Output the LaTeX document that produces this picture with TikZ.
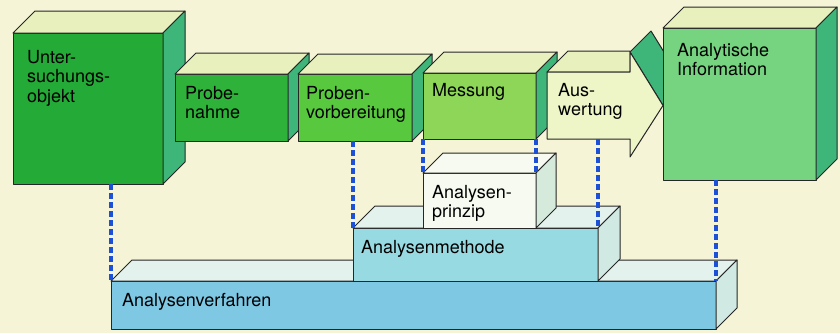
\documentclass[tikz,border=0pt]{standalone}
\usepackage{fontspec}
\setmainfont{TeX Gyre Heros}
\usetikzlibrary{positioning}

\definecolor{paper}{RGB}{245,244,214}
\definecolor{topface}{RGB}{232,240,190}
\definecolor{greenside}{RGB}{62,182,122}
\definecolor{objgreen}{RGB}{36,170,54}
\definecolor{pngreen}{RGB}{46,178,58}
\definecolor{pvgreen}{RGB}{88,200,62}
\definecolor{msgreen}{RGB}{142,214,88}
\definecolor{awyellow}{RGB}{238,245,198}
\definecolor{aigreen}{RGB}{118,212,128}
\definecolor{ppwhite}{RGB}{246,250,240}
\definecolor{ppside}{RGB}{214,234,220}
\definecolor{metop}{RGB}{228,242,238}
\definecolor{mecyan}{RGB}{152,218,226}
\definecolor{vfblue}{RGB}{126,200,228}
\definecolor{paleside}{RGB}{208,233,226}
\definecolor{linkblue}{RGB}{28,80,214}

% top and side face of a box, drawn from the front node
\newcommand{\cubefaces}[4]{%
	\draw[face, fill=#2] (#1.north west) -- ++(#4,-#4) -- ([shift={(#4,-#4)}]#1.north east) -- (#1.north east) -- cycle;
	\draw[face, fill=#3] (#1.north east) -- ++(#4,-#4) -- ([shift={(#4,-#4)}]#1.south east) -- (#1.south east) -- cycle;
}

\begin{document}
\begin{tikzpicture}[
		x=1pt, y=-1pt,
		face/.style={draw=black!85, line width=1pt, line join=round},
		front/.style={face, rectangle, inner sep=0pt, outer sep=0pt, anchor=north west},
		lbl/.style={inner sep=0pt, align=left, font=\fontsize{18}{19.5}\selectfont},
		link/.style={draw=linkblue, line width=3.2pt, dash pattern=on 5.5pt off 3.5pt},
	]
	\fill[paper] (0,0) rectangle (840,333);
	\useasboundingbox (0,0) rectangle (840,333);

	% upper row
	\node[front, fill=objgreen, minimum width=150pt, minimum height=151pt] (ob) at (13,33) {};
	\cubefaces{ob}{topface}{greenside}{22}
	\node[lbl, below right=17pt and 14pt of ob.north west] {Unter-\\suchungs-\\objekt};

	\node[front, fill=pngreen, minimum width=113pt, minimum height=67pt] (pn) at (175,74) {};
	\cubefaces{pn}{topface}{greenside}{21}
	\node[lbl, below right=12pt and 10pt of pn.north west] {Probe-\\nahme};

	\node[front, fill=pvgreen, minimum width=114pt, minimum height=67pt] (pv) at (298,74) {};
	\cubefaces{pv}{topface}{greenside}{20}
	\node[lbl, below right=12pt and 8pt of pv.north west] {Proben-\\vorbereitung};

	\node[front, fill=msgreen, minimum width=113pt, minimum height=66pt] (ms) at (423,73) {};
	\cubefaces{ms}{topface}{greenside}{21}
	\node[lbl, below right=10pt and 9pt of ms.north west] {Messung};

	% arrow
	\node[front, draw=none, minimum width=83pt, minimum height=67pt] (aw) at (547,72) {};
	\draw[face, fill=greenside] ([yshift=20pt]aw.north east) -- ++(21,-21) -- ([shift={(54,-21)}]aw.east) -- ([xshift=33pt]aw.east) -- cycle;
	\draw[face, fill=topface] (aw.north west) -- ++(21,-21) -- ([yshift=21pt]aw.north east) -- (aw.north east) -- cycle;
	\draw[face, fill=awyellow] (aw.north west) -- (aw.north east) -- ([yshift=20pt]aw.north east) -- ([xshift=33pt]aw.east)
		-- ([yshift=-18pt]aw.south east) -- (aw.south east) -- (aw.south west) -- cycle;
	\node[lbl, below right=11pt and 11pt of aw.north west] {Aus-\\wertung};

	\node[front, fill=aigreen, minimum width=153pt, minimum height=152pt] (ai) at (663,28) {};
	\cubefaces{ai}{topface}{greenside}{21}
	\node[lbl, below right=15pt and 14pt of ai.north west] {Analytische\\Information};

	% lower stack
	\node[front, fill=vfblue, minimum width=605pt, minimum height=48pt] (vf) at (111,281) {};
	\cubefaces{vf}{metop}{paleside}{21}
	\node[lbl, below right=12pt and 11pt of vf.north west] {Analysenverfahren};

	\node[front, fill=mecyan, minimum width=245pt, minimum height=53pt] (me) at (353,228) {};
	\cubefaces{me}{metop}{paleside}{22}
	\node[lbl, below right=12pt and 8pt of me.north west] {Analysenmethode};

	\node[front, fill=ppwhite, minimum width=113pt, minimum height=55pt] (pp) at (423,173) {};
	\cubefaces{pp}{ppwhite}{ppside}{20}
	\node[lbl, below right=12pt and 9pt of pp.north west] {Analysen-\\prinzip};

	\foreach \lo/\up in {vf.north west/ob, me.north west/pv, pp.north west/ms, pp.north east/ms, me.north east/aw, vf.north east/ai}{
		\draw[link] (\lo |- \up.south) -- (\lo);
	}
\end{tikzpicture}
\end{document}
